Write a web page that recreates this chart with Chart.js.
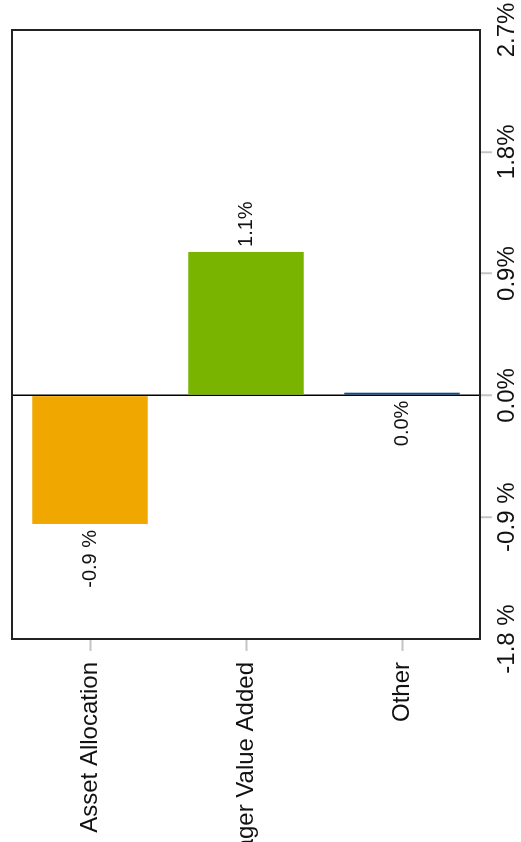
<!DOCTYPE html>
<html lang="en">
<head>
  <meta charset="UTF-8" />
  <title>Attribution</title>
  <script src="https://cdn.jsdelivr.net/npm/chart.js"></script>
  <style>
    body {
      margin: 0;
      padding: 0;
      background: #ffffff;
      overflow: hidden;
    }

    .wrap {
      position: relative;
      width: 521px;
      height: 842px;
      overflow: hidden;
    }

    /* chart is drawn as a normal horizontal bar chart, then turned on its side */
    #attrChart {
      position: absolute;
      left: 0;
      top: 0;
      transform-origin: 0 0;
      transform: translate(0, 842px) rotate(-90deg);
    }
  </style>
</head>
<body>
  <div class="wrap">
    <canvas id="attrChart" width="842" height="521"></canvas>
  </div>

  <script>
    const categories = ['Asset Allocation', 'Manager Value Added', 'Other'];
    const values = [-0.95, 1.06, 0.02];
    const valueLabels = ['-0.9 %', '1.1%', '0.0%'];
    const barColors = ['#f0a800', '#78b400', '#0d4e86'];

    const tickValues = [-1.8, -0.9, 0, 0.9, 1.8, 2.7];
    const tickText = ['-1.8 %', '-0.9 %', '0.0%', '0.9%', '1.8%', '2.7%'];

    const FONT = "'Liberation Sans', Arial, sans-serif";

    // frame round the plot area
    const boxPlugin = {
      id: 'box',
      afterDraw(chart) {
        const a = chart.chartArea;
        const c = chart.ctx;
        c.save();
        c.strokeStyle = '#222';
        c.lineWidth = 2;
        c.strokeRect(a.left, a.top, a.right - a.left, a.bottom - a.top);
        c.restore();
      }
    };

    // value text at the end of each bar
    const valueLabelPlugin = {
      id: 'valueLabels',
      afterDatasetsDraw(chart) {
        const c = chart.ctx;
        const meta = chart.getDatasetMeta(0);
        c.save();
        c.font = '20px ' + FONT;
        c.fillStyle = '#111';
        c.textBaseline = 'middle';
        meta.data.forEach((bar, i) => {
          const left = Math.round(values[i] * 10) <= 0;
          if (left) {
            c.textAlign = 'right';
            c.fillText(valueLabels[i], Math.min(bar.x, bar.base) - 6, bar.y);
          } else {
            c.textAlign = 'left';
            c.fillText(valueLabels[i], Math.max(bar.x, bar.base) + 5, bar.y);
          }
        });
        c.restore();
      }
    };

    const ctx = document.getElementById('attrChart').getContext('2d');
    const chart = new Chart(ctx, {
      type: 'bar',
      data: {
        labels: categories,
        datasets: [{
          data: values,
          backgroundColor: barColors,
          borderWidth: 0,
          barPercentage: 0.74,
          categoryPercentage: 1.0
        }]
      },
      options: {
        indexAxis: 'y',
        responsive: false,
        animation: false,
        devicePixelRatio: 1,
        layout: { padding: { top: 12, right: 30, left: 0, bottom: 0 } },
        plugins: {
          legend: { display: false },
          tooltip: { enabled: false }
        },
        scales: {
          x: {
            min: -1.8,
            max: 2.7,
            afterBuildTicks(scale) {
              scale.ticks = tickValues.map(v => ({ value: v }));
            },
            afterFit(scale) {
              scale.height = 41;
              scale.paddingRight = 0;
            },
            border: { display: false },
            grid: {
              color: c => (c.tick && c.tick.value === 0) ? '#000' : 'rgba(0,0,0,0)',
              lineWidth: 1.5,
              tickColor: c => (c.tick && (c.tick.value === -1.8 || c.tick.value === 2.7)) ? 'rgba(0,0,0,0)' : '#c4c4c4',
              tickWidth: 2,
              tickLength: 12
            },
            ticks: {
              color: '#111',
              font: { family: FONT, size: 24 },
              padding: 1,
              maxRotation: 0,
              callback: (v, i) => tickText[i]
            }
          },
          y: {
            afterFit(scale) {
              scale.width = 203;
              scale.paddingTop = 0;
              scale.paddingBottom = 0;
            },
            border: { display: false },
            grid: {
              offset: false,
              color: 'rgba(0,0,0,0)',
              tickColor: '#c4c4c4',
              tickWidth: 2,
              tickLength: 12
            },
            ticks: {
              color: '#111',
              font: { family: FONT, size: 24 },
              padding: 11
            }
          }
        }
      },
      plugins: [boxPlugin, valueLabelPlugin]
    });
  </script>
</body>
</html>
